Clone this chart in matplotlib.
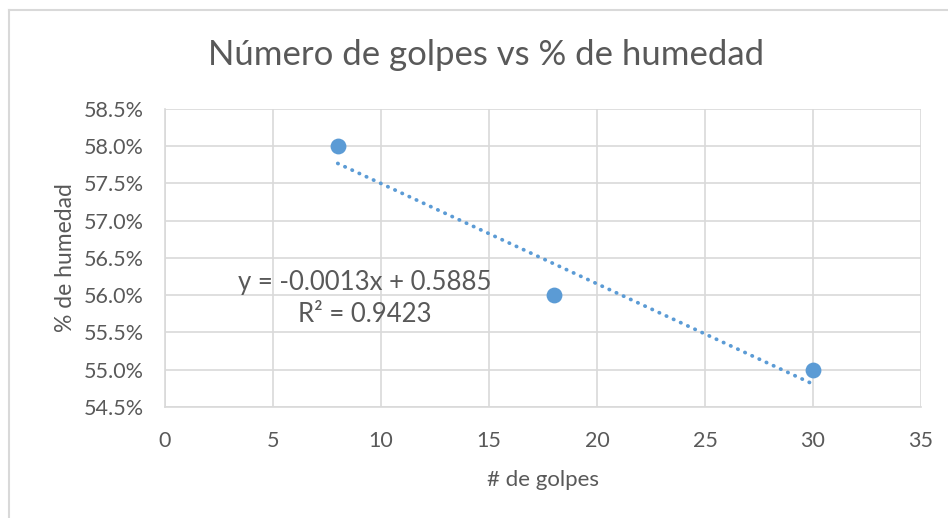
import matplotlib.pyplot as plt
import numpy as np
from matplotlib.ticker import PercentFormatter

golpes = [8, 18, 30]
humedad = [0.58, 0.56, 0.55]

title = "Número de golpes vs % de humedad"
xlabel = "# de golpes"
ylabel = "% de humedad"

blue = "#5b9bd5"
txt = "#595959"
grid = "#d9d9d9"

plt.rcParams['font.family'] = ['Lato', 'DejaVu Sans']

fig = plt.figure(figsize=(9.48, 5.18), dpi=100)
ax = fig.add_axes([0.174, 0.2143, 0.7975, 0.5753])

# regresion lineal (linea de tendencia)
m, b = np.polyfit(golpes, humedad, 1)
pred = np.polyval([m, b], golpes)
r2 = 1 - np.sum((np.array(humedad) - pred) ** 2) / np.sum((np.array(humedad) - np.mean(humedad)) ** 2)
xt = np.array([min(golpes), max(golpes)])
ax.plot(xt, m * xt + b, color=blue, lw=2.7, linestyle=(0, (0.1, 2.0)), dash_capstyle='round', zorder=2)

ax.scatter(golpes, humedad, s=130, color=blue, zorder=3, linewidths=0)

ax.set_xlim(0, 35)
ax.set_ylim(0.545, 0.585)
ax.set_xticks(np.arange(0, 36, 5))
ax.set_yticks(np.arange(0.545, 0.5851, 0.005))
ax.yaxis.set_major_formatter(PercentFormatter(1.0, decimals=1))
ax.grid(True, color=grid, lw=1.2)
ax.set_axisbelow(True)
for s in ['top', 'right']:
    ax.spines[s].set_visible(False)
for s in ['left', 'bottom']:
    ax.spines[s].set_color(grid)
    ax.spines[s].set_linewidth(1.2)
ax.tick_params(length=0, colors=txt, labelsize=15.5)
ax.tick_params(axis='y', pad=15)
ax.tick_params(axis='x', pad=17)

ax.text(9.25, 0.55956, "y = %.4fx + %.4f\nR² = %.4f" % (m, b, r2), ha='center', va='center',
        fontsize=18.5, color=txt, linespacing=1.36)

fig.text(486 / 948, 1 - 55 / 518, title, fontsize=25, color=txt, ha='center', va='center')
ax.set_xlabel(xlabel, fontsize=16, color=txt, labelpad=14)
ax.set_ylabel(ylabel, fontsize=16.5, color=txt, labelpad=6)

# marco del grafico
fig.add_artist(plt.Line2D([9/948, 1], [1 - 10/518, 1 - 10/518], color=grid, lw=1.5))
fig.add_artist(plt.Line2D([9/948, 9/948], [0, 1 - 10/518], color=grid, lw=1.5))

fig.savefig("out.png", dpi=100, facecolor="white")
